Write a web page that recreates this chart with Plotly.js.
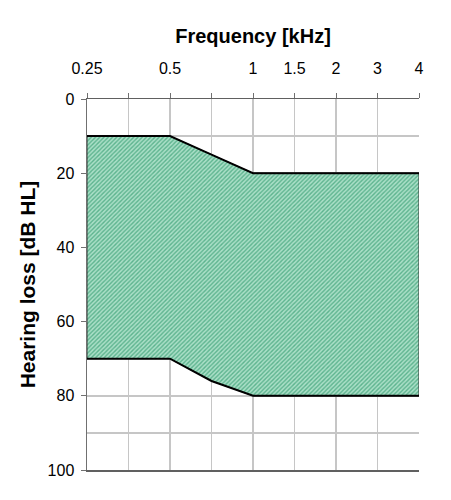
<!DOCTYPE html>
<html>
<head>
<meta charset="utf-8">
<script src="https://cdn.plot.ly/plotly-3.0.1.min.js"></script>
<style>
html,body{margin:0;padding:0;background:#fff;}
#chart{width:451px;height:500px;}
</style>
</head>
<body>
<div id="chart"></div>
<script>
// Frequency categories (kHz), equally spaced on the axis
var freqs = ['0.25', '0.375', '0.5', '0.75', '1', '1.5', '2', '3', '4'];
var freqLabels = ['0.25', '', '0.5', '', '1', '1.5', '2', '3', '4'];
// Upper and lower boundary of the hearing-loss band (dB HL)
var upperLoss = [10, 10, 10, 15, 20, 20, 20, 20, 20];
var lowerLoss = [70, 70, 70, 76, 80, 80, 80, 80, 80];
var yTicks = [0, 20, 40, 60, 80, 100];

var polyX = freqs.concat(freqs.slice().reverse());
var polyY = upperLoss.concat(lowerLoss.slice().reverse());
polyX.push(freqs[0]);
polyY.push(upperLoss[0]);

var font = "'Liberation Sans', Arial, sans-serif";

var traces = [
  {
    x: polyX, y: polyY, type: 'scatter', mode: 'lines',
    fill: 'toself',
    fillcolor: '#a9dfc7',
    fillpattern: {shape: '/', fgcolor: '#5cb38e', bgcolor: '#abe0c8', size: 3, solidity: 0.45},
    line: {color: '#303030', width: 1},
    hoverinfo: 'skip', showlegend: false
  },
  {
    x: freqs, y: upperLoss, type: 'scatter', mode: 'lines',
    line: {color: '#000000', width: 2}, showlegend: false
  },
  {
    x: freqs, y: lowerLoss, type: 'scatter', mode: 'lines',
    line: {color: '#000000', width: 2}, showlegend: false
  }
];

var layout = {
  width: 451, height: 500,
  margin: {l: 87, r: 32, t: 99, b: 30},
  paper_bgcolor: '#ffffff', plot_bgcolor: '#ffffff',
  showlegend: false,
  font: {family: font, color: '#000', size: 16},
  xaxis: {
    type: 'category',
    categoryorder: 'array', categoryarray: freqs,
    range: [0, 8],
    side: 'top',
    tickmode: 'array', tickvals: freqs, ticktext: freqLabels,
    ticks: 'outside', ticklen: 5, tickcolor: '#707070', tickwidth: 1,
    ticklabelstandoff: 12,
    showgrid: true, gridcolor: '#c6c6c6', gridwidth: 1.5,
    showline: true, linecolor: '#606060', linewidth: 1.5, mirror: true,
    zeroline: false,
    tickfont: {family: font, size: 16, color: '#000'},
    title: {text: '<b>Frequency [kHz]</b>', font: {family: font, size: 20, color: '#000'}, standoff: 11}
  },
  yaxis: {
    range: [100, 0],
    tickmode: 'array', tickvals: yTicks,
    ticks: 'outside', ticklen: 5, tickcolor: '#707070', tickwidth: 1,
    ticklabelstandoff: 3,
    showgrid: true, gridcolor: '#c6c6c6', gridwidth: 1.5,
    minor: {dtick: 10, tick0: 0, showgrid: true, gridcolor: '#c6c6c6', gridwidth: 1.5, ticks: ''},
    showline: true, linecolor: '#707070', linewidth: 1.5,
    zeroline: false,
    tickfont: {family: font, size: 16, color: '#000'},
    title: {text: '<b>Hearing loss [dB HL]</b>', font: {family: font, size: 21, color: '#000'}, standoff: 6}
  }
};

Plotly.newPlot('chart', traces, layout, {displayModeBar: false, staticPlot: true});
</script>
</body>
</html>
